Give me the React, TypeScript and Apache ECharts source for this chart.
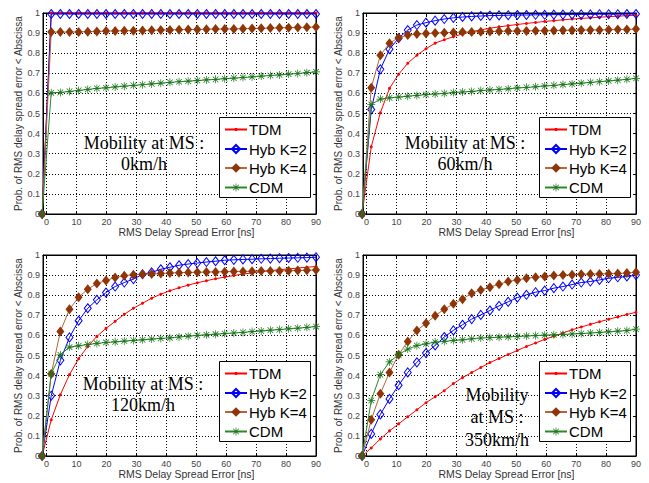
import React, { useEffect, useRef } from 'react';
import * as echarts from 'echarts';

// x positions of the sampled points (ns)
const X = [-1.5, 1.55, 4.6, 7.65, 10.7, 13.75, 16.8, 19.85, 22.9, 25.95, 29, 32.05, 35.1, 38.15, 41.2, 44.25, 47.3, 50.35, 53.4, 56.45, 59.5, 62.55, 65.6, 68.65, 71.7, 74.75, 77.8, 80.85, 83.9, 86.95, 90];

const SERIES_NAMES = ['TDM', 'Hyb K=2', 'Hyb K=4', 'CDM'];
const X_NAME = 'RMS Delay Spread Error [ns]';
const Y_NAME = 'Prob. of RMS delay spread error < Abscissa';
const PANEL_TEXTS = ['Mobility at MS :\n0km/h', 'Mobility at MS :\n60km/h', 'Mobility at MS :\n120km/h', 'Mobility\nat MS :\n350km/h'];

// 0 km/h
const TDM_0 = [0, 1, 1, 1, 1, 1, 1, 1, 1, 1, 1, 1, 1, 1, 1, 1, 1, 1, 1, 1, 1, 1, 1, 1, 1, 1, 1, 1, 1, 1, 1];
const K2_0 = [0, 0.995, 0.995, 0.995, 0.995, 0.995, 0.995, 0.995, 0.995, 0.995, 0.995, 0.995, 0.995, 0.995, 0.995, 0.995, 0.995, 0.995, 0.995, 0.995, 0.995, 0.995, 0.995, 0.995, 0.995, 0.995, 0.995, 0.995, 0.995, 0.995, 0.995];
const K4_0 = [0, 0.905, 0.905, 0.905, 0.906, 0.907, 0.908, 0.910, 0.911, 0.912, 0.912, 0.913, 0.914, 0.915, 0.916, 0.917, 0.918, 0.918, 0.919, 0.920, 0.920, 0.921, 0.922, 0.923, 0.924, 0.925, 0.926, 0.927, 0.928, 0.929, 0.930];
const CDM_0 = [0, 0.603, 0.605, 0.610, 0.615, 0.620, 0.625, 0.628, 0.632, 0.636, 0.640, 0.643, 0.647, 0.651, 0.655, 0.658, 0.661, 0.664, 0.667, 0.670, 0.673, 0.676, 0.679, 0.682, 0.686, 0.689, 0.692, 0.696, 0.699, 0.703, 0.707];

// 60 km/h
const TDM_60 = [0, 0.334, 0.504, 0.625, 0.695, 0.75, 0.79, 0.822, 0.85, 0.867, 0.882, 0.896, 0.907, 0.916, 0.924, 0.931, 0.937, 0.943, 0.948, 0.953, 0.958, 0.962, 0.966, 0.970, 0.973, 0.976, 0.979, 0.982, 0.984, 0.987, 0.989];
const K2_60 = [0, 0.52, 0.72, 0.82, 0.875, 0.915, 0.94, 0.952, 0.962, 0.97, 0.976, 0.98, 0.983, 0.985, 0.987, 0.988, 0.989, 0.99, 0.99, 0.991, 0.991, 0.992, 0.992, 0.993, 0.993, 0.993, 0.994, 0.994, 0.994, 0.995, 0.995];
const K4_60 = [0, 0.628, 0.79, 0.85, 0.877, 0.89, 0.895, 0.898, 0.9, 0.902, 0.903, 0.905, 0.906, 0.907, 0.908, 0.909, 0.91, 0.91, 0.911, 0.912, 0.912, 0.913, 0.914, 0.914, 0.915, 0.916, 0.916, 0.917, 0.918, 0.918, 0.92];
const CDM_60 = [0, 0.545, 0.572, 0.578, 0.582, 0.586, 0.59, 0.594, 0.597, 0.6, 0.604, 0.607, 0.61, 0.614, 0.617, 0.62, 0.623, 0.627, 0.63, 0.633, 0.637, 0.64, 0.644, 0.647, 0.651, 0.655, 0.658, 0.662, 0.666, 0.67, 0.675];

// 120 km/h
const TDM_120 = [0, 0.18, 0.305, 0.405, 0.484, 0.545, 0.595, 0.635, 0.67, 0.705, 0.735, 0.76, 0.785, 0.805, 0.822, 0.837, 0.85, 0.862, 0.872, 0.882, 0.89, 0.898, 0.905, 0.911, 0.917, 0.922, 0.927, 0.931, 0.935, 0.939, 0.943];
const K2_120 = [0, 0.3, 0.476, 0.59, 0.673, 0.735, 0.777, 0.813, 0.843, 0.863, 0.88, 0.904, 0.914, 0.929, 0.939, 0.949, 0.955, 0.96, 0.965, 0.969, 0.974, 0.976, 0.978, 0.979, 0.981, 0.982, 0.984, 0.985, 0.986, 0.987, 0.989];
const K4_120 = [0, 0.408, 0.62, 0.73, 0.79, 0.83, 0.858, 0.873, 0.888, 0.897, 0.902, 0.904, 0.906, 0.908, 0.91, 0.912, 0.913, 0.914, 0.915, 0.916, 0.917, 0.918, 0.918, 0.919, 0.92, 0.921, 0.921, 0.922, 0.923, 0.924, 0.925];
const CDM_120 = [0, 0.41, 0.503, 0.542, 0.548, 0.555, 0.56, 0.565, 0.568, 0.572, 0.575, 0.578, 0.582, 0.585, 0.588, 0.592, 0.596, 0.6, 0.603, 0.606, 0.609, 0.612, 0.615, 0.619, 0.622, 0.626, 0.629, 0.633, 0.636, 0.64, 0.644];

// 350 km/h
const TDM_350 = [0, 0.04, 0.085, 0.125, 0.16, 0.195, 0.23, 0.265, 0.295, 0.325, 0.36, 0.39, 0.415, 0.44, 0.465, 0.485, 0.505, 0.525, 0.545, 0.562, 0.58, 0.596, 0.612, 0.628, 0.642, 0.655, 0.668, 0.68, 0.692, 0.704, 0.715];
const K2_350 = [0, 0.11, 0.207, 0.284, 0.352, 0.416, 0.466, 0.512, 0.55, 0.592, 0.625, 0.653, 0.681, 0.702, 0.724, 0.747, 0.767, 0.788, 0.802, 0.815, 0.823, 0.835, 0.843, 0.853, 0.863, 0.868, 0.876, 0.884, 0.889, 0.893, 0.9];
const K4_350 = [0, 0.18, 0.31, 0.416, 0.504, 0.57, 0.625, 0.66, 0.698, 0.73, 0.757, 0.78, 0.81, 0.826, 0.84, 0.855, 0.868, 0.876, 0.884, 0.889, 0.893, 0.898, 0.9, 0.902, 0.904, 0.905, 0.906, 0.907, 0.908, 0.91, 0.914];
const CDM_350 = [0, 0.276, 0.405, 0.468, 0.504, 0.532, 0.549, 0.558, 0.567, 0.57, 0.575, 0.578, 0.583, 0.587, 0.589, 0.591, 0.593, 0.595, 0.597, 0.599, 0.601, 0.603, 0.605, 0.607, 0.609, 0.612, 0.615, 0.618, 0.621, 0.624, 0.631];

const PANEL_DATA = [
  [TDM_0, K2_0, K4_0, CDM_0],
  [TDM_60, K2_60, K4_60, CDM_60],
  [TDM_120, K2_120, K4_120, CDM_120],
  [TDM_350, K2_350, K4_350, CDM_350],
];

const GRID_POS = [
  { left: 43, top: 13 },
  { left: 363, top: 13 },
  { left: 43, top: 255 },
  { left: 363, top: 255 },
];
const GRID_W = 273;
const GRID_H = 201;
const LEGEND_BOX = [
  { x: 219, y: 117 },
  { x: 539, y: 117 },
  { x: 219, y: 361 },
  { x: 539, y: 361 },
];
const LEGEND_BOX_W = 91;
const LEGEND_BOX_H = 80;
const LEGEND_ROW_OFFSETS = [13, 32.5, 51.5, 71];
const TEXT_POS = [
  { x: 144, y: 153, lh: 21 },
  { x: 465, y: 153, lh: 21 },
  { x: 143, y: 394, lh: 21 },
  { x: 497, y: 417, lh: 22.5 },
];

const STAR = 'path://M9.1,0L10.9,0L10.9,20L9.1,20ZM0,9.1L20,9.1L20,10.9L0,10.9ZM2.3,3.6L3.6,2.3L17.7,16.4L16.4,17.7ZM16.4,2.3L17.7,3.6L3.6,17.7L2.3,16.4Z';

const STYLES = [
  { line: '#ff0000', symbol: 'circle', size: 3, color: '#ff0000', border: '#ff0000', bw: 0, legendH: 4 },
  { line: '#0000ff', symbol: 'diamond', size: [7, 9], color: 'rgba(255,255,255,0)', border: '#0000ff', bw: 1, legendH: 10 },
  { line: '#b5653a', symbol: 'diamond', size: [8, 10], color: '#8f3507', border: '#8f3507', bw: 0, legendH: 12 },
  { line: '#2a8a2a', symbol: STAR, size: 8, color: '#1a751a', border: '#1a751a', bw: 0, legendH: 10 },
];

export default function App() {
  const ref = useRef<HTMLDivElement>(null);
  useEffect(() => {
    if (!ref.current) return;
    const chart = echarts.init(ref.current, null, { renderer: 'svg' });
    const grid: any[] = [];
    const xAxis: any[] = [];
    const yAxis: any[] = [];
    const series: any[] = [];
    const legend: any[] = [];
    const graphic: any[] = [];
    const tickFont = { fontFamily: 'Liberation Sans', fontSize: 9, color: '#444' };
    GRID_POS.forEach((p, g) => {
      grid.push({ left: p.left, top: p.top, width: GRID_W, height: GRID_H, show: true, backgroundColor: '#fff', borderColor: '#000', borderWidth: 1 });
      const xBase = {
        type: 'value', gridIndex: g, min: -1.2, max: 90, splitNumber: 9,
        axisLine: { show: true, onZero: false, lineStyle: { color: '#000', width: 1 } },
        axisTick: { show: true, inside: true, length: 3, lineStyle: { color: '#000' } },
      };
      xAxis.push({
        ...xBase, position: 'bottom',
        name: X_NAME, nameLocation: 'middle', nameGap: 11,
        nameTextStyle: { fontFamily: 'Liberation Sans', fontSize: 10.5, color: '#333', padding: [0, 0, 0, 14] },
        axisLabel: { ...tickFont, margin: 3, formatter: (v: number) => (v < 0 ? '' : String(v)) },
        splitLine: { show: true, lineStyle: { color: '#000', type: [1, 2], width: 1 } },
      });
      xAxis.push({ ...xBase, position: 'top', axisLabel: { show: false }, splitLine: { show: false } });
      const yBase = {
        type: 'value', gridIndex: g, min: 0, max: 1, interval: 0.1,
        axisLine: { show: true, onZero: false, lineStyle: { color: '#000', width: 1 } },
        axisTick: { show: true, inside: true, length: 3, lineStyle: { color: '#000' } },
      };
      yAxis.push({
        ...yBase, position: 'left',
        name: Y_NAME, nameLocation: 'middle', nameGap: 18, nameRotate: 90,
        nameTextStyle: { fontFamily: 'Liberation Sans', fontSize: 10, color: '#333' },
        axisLabel: { ...tickFont, margin: 3 },
        splitLine: { show: true, lineStyle: { color: '#000', type: [1, 2], width: 1 } },
      });
      yAxis.push({ ...yBase, position: 'right', axisLabel: { show: false }, splitLine: { show: false } });

      PANEL_DATA[g].forEach((vals, s) => {
        const st = STYLES[s];
        series.push({
          type: 'line', name: SERIES_NAMES[s], xAxisIndex: 2 * g, yAxisIndex: 2 * g,
          data: X.map((x, i) => [x, vals[i]]),
          clip: false,
          symbol: st.symbol, symbolSize: st.size, showAllSymbol: true,
          lineStyle: { color: st.line, width: 1 },
          itemStyle: { color: st.color, borderColor: st.border, borderWidth: st.bw },
          emphasis: { disabled: true },
          z: 3 + s,
        });
        legend.push({
          data: [SERIES_NAMES[s]], orient: 'vertical',
          left: LEGEND_BOX[g].x + 5, top: LEGEND_BOX[g].y + LEGEND_ROW_OFFSETS[s] - 8,
          padding: 0, itemWidth: 22, itemHeight: st.legendH,
          textStyle: { fontFamily: 'Liberation Sans', fontSize: 15, color: '#000', padding: [0, 0, 0, -3] },
          selectedMode: false, z: 12,
        });
      });

      graphic.push({
        type: 'rect', z: 11,
        shape: { x: LEGEND_BOX[g].x + 0.5, y: LEGEND_BOX[g].y + 0.5, width: LEGEND_BOX_W, height: LEGEND_BOX_H },
        style: { fill: '#fff', stroke: '#000', lineWidth: 1 },
      });
      graphic.push({
        type: 'text', x: TEXT_POS[g].x, y: TEXT_POS[g].y, z: 11,
        style: {
          text: PANEL_TEXTS[g], fill: '#000', align: 'center', verticalAlign: 'middle',
          font: '18px "Liberation Serif"', lineHeight: TEXT_POS[g].lh,
        },
      });
    });

    chart.setOption({
      animation: false,
      backgroundColor: '#fff',
      grid, xAxis, yAxis, series, legend, graphic,
      tooltip: { show: false },
    });
    return () => chart.dispose();
  }, []);
  return <div ref={ref} style={{ position: 'absolute', left: 0, top: 0, width: 649, height: 483 }} />;
}
